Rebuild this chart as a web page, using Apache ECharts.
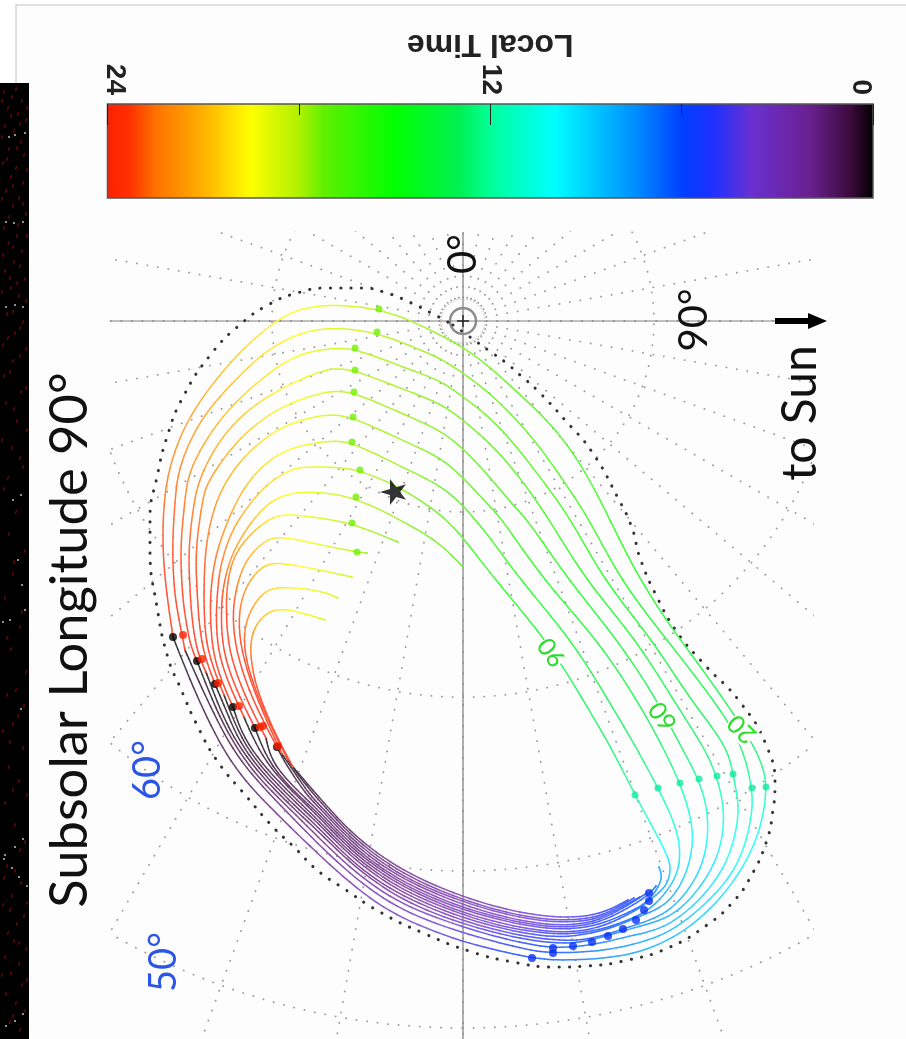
<!DOCTYPE html>
<html><head><meta charset="utf-8">
<style>html,body{margin:0;padding:0;background:#fff}#c{width:906px;height:1039px}</style>
<script src="https://cdn.jsdelivr.net/npm/echarts@6/dist/echarts.min.js"></script>
</head><body><div id="c"></div>
<script>
// Each curve point: [plane x, plane y, local time in hours]
const curve20 = [[173,637,0],[190,680,.3],[207,718,.6],[226,755,.9],[250,787,1.2],[283,820,1.7],[317,853,2.2],[350,883,2.7],[383,908,3.2],[417,925,3.8],[463,942,4.5],[500,951,5.2],[532,958,6],[553,960,6.4],[577,960,6.8],[620,957,7.5],[653,948,8],[687,930,8.5],[717,903,9],[740,873,9.6],[757,840,10.2],[765,807,11],[766,787,12],[765,773,12.3],[755,747,12.8],[733,713,13.3],[703,670,13.8],[673,630,14.3],[653,600,14.7],[632,565,15],[610,520,15.5],[590,480,15.8],[567,443,16.1],[540,413,16.4],[517,392,16.7],[490,367,17],[463,347,17.3],[440,335,17.5],[410,320,17.8],[379,309,18],[335,304,18.7],[300,308,19.3],[277,320,19.7],[250,342,20.2],[223,370,20.8],[193,410,21.5],[177,443,22],[165,483,22.6],[162,537,23.1],[165,583,23.6],[173,637,24]];
const curve30 = [[185,650,0],[199,682,.3],[213,712,.5],[232,749,.8],[256,780,1.1],[288,813,1.6],[317,843,1.9],[350,874,2.3],[383,899,2.8],[417,917,3.3],[463,933,4.2],[500,943,4.9],[533,951,5.5],[553,953,6],[592,952,6.8],[623,947,7.4],[650,940,7.9],[675,929,8.3],[705,905,8.9],[730,878,9.5],[745,848,10.1],[753,810,11],[752,788,12],[743,745,12.8],[714,700,13.3],[667,640,14],[620,580,15],[590,520,15.7],[563,480,16.1],[540,447,16.4],[517,420,16.7],[490,393,17],[463,373,17.3],[440,358,17.5],[420,350,17.7],[377,332,18],[333,327,18.7],[300,332,19.3],[267,350,20],[245,370,20.5],[213,403,21.2],[193,433,21.8],[178,470,22.4],[175,500,22.8],[172,547,23.2],[174,587,23.5],[177,610,23.7],[185,650,24]];
const curve40 = [[197,661,0],[216,710,.4],[235,746,.7],[258,778,1],[292,811,1.4],[317,836,1.7],[350,868,2.1],[383,893,2.6],[417,911,3.1],[463,927,4],[500,938,4.7],[533,945,5.4],[553,948,6],[590,946,6.7],[625,937,7.3],[650,932,7.8],[673,923,8.3],[700,900,8.9],[720,875,9.5],[733,847,10.1],[740,810,11],[735,785,11.7],[733,774,12],[727,745,12.8],[690,700,13.3],[653,640,14],[603,580,15],[572,520,15.7],[540,477,16.2],[517,447,16.5],[490,417,16.9],[463,397,17.2],[440,380,17.5],[410,370,17.7],[355,348,18],[333,348,18.5],[300,353,19.2],[272,370,19.8],[233,403,20.6],[207,437,21.3],[188,473,22],[185,500,22.6],[180,547,23],[182,587,23.4],[184,610,23.6],[190,645,23.9],[197,661,24]];
const curve50 = [[206,672,0],[220,710,.3],[237,744,.5],[261,776,.8],[294,809,1.1],[317,830,1.3],[350,863,1.7],[383,888,2.1],[417,907,2.7],[463,924,3.7],[500,934,4.5],[533,941,5.1],[573,945,6],[610,935,6.8],[640,926,7.4],[670,918,8],[693,897,8.6],[712,870,9.2],[722,843,9.9],[725,810,10.8],[717,776,12],[703,745,12.8],[673,700,13.3],[637,640,14],[585,580,15],[550,520,15.8],[517,473,16.3],[490,443,16.7],[463,420,17.1],[440,403,17.4],[410,392,17.7],[355,370,18],[335,368,18.4],[317,372,18.9],[277,390,19.7],[243,413,20.5],[217,443,21.2],[200,477,22],[194,500,22.4],[188,550,23],[190,587,23.4],[191,610,23.6],[196,650,23.9],[206,672,24]];
const curve60 = [[215,684,0],[226,710,.2],[239,742,.4],[263,774,.7],[296,807,1],[317,826,1.2],[350,860,1.5],[383,885,1.9],[417,903,2.4],[463,921,3.4],[500,931,4.2],[533,938,4.8],[567,941,5.4],[592,939,6],[620,930,6.6],[645,922,7.2],[667,913,7.8],[687,893,8.4],[702,867,9],[708,840,9.8],[708,810,10.8],[699,779,12],[680,745,12.8],[657,700,13.3],[618,640,14],[568,580,15],[528,520,15.8],[517,510,16],[490,477,16.5],[463,448,17],[440,430,17.3],[410,417,17.6],[354,392,18],[335,391,18.4],[320,393,18.8],[283,405,19.6],[250,428,20.4],[227,453,21.1],[207,483,21.9],[203,497,22.2],[195,550,23],[197,587,23.4],[198,610,23.6],[202,650,23.9],[215,684,24]];
const curve70 = [[224,695,0],[241,740,.4],[265,772,.6],[298,805,.9],[317,822,1.1],[350,856,1.4],[383,881,1.8],[417,900,2.3],[463,918,3.2],[500,928,4],[533,935,4.6],[567,938,5.2],[608,930,6],[635,918,6.7],[662,908,7.5],[677,892,8.2],[688,870,8.9],[694,840,9.8],[690,813,10.8],[680,783,12],[662,745,12.8],[637,700,13.3],[598,640,14],[543,580,15],[503,520,15.9],[490,507,16.2],[463,477,16.8],[440,457,17.2],[410,444,17.6],[353,417,18],[335,415,18.4],[320,415,18.8],[283,425,19.5],[253,447,20.3],[230,473,21],[213,507,21.9],[205,550,22.8],[204,587,23.3],[204,610,23.6],[206,650,23.9],[224,695,24]];
const curve80 = [[233,707,0],[243,738,.3],[267,770,.6],[300,803,.9],[317,819,1.1],[350,853,1.4],[383,878,1.7],[417,897,2.2],[463,915,3.1],[500,926,3.8],[533,932,4.4],[567,935,5],[600,930,5.7],[623,922,6.3],[640,915,6.9],[655,905,7.5],[668,890,8.1],[678,873,8.8],[681,850,9.6],[675,823,10.7],[658,788,12],[635,745,12.8],[608,700,13.3],[572,640,14],[520,580,15],[490,537,15.8],[475,520,16.2],[463,505,16.5],[440,485,17],[408,470,17.5],[352,442,18],[335,441,18.4],[320,442,18.8],[287,448,19.4],[260,467,20.2],[240,493,21],[225,527,21.9],[215,557,22.6],[211,587,23.2],[210,610,23.6],[212,650,23.9],[221,680,23.95],[233,707,24]];
const curve90 = [[244,717,0],[252,736,.2],[269,768,.5],[302,801,.9],[317,815,1.1],[350,850,1.3],[383,875,1.7],[417,894,2.2],[463,913,3],[500,923,3.7],[533,930,4.3],[567,933,4.8],[600,928,5.4],[625,916,6],[640,908,6.6],[650,900,7.2],[660,892,7.7],[668,883,8.2],[671,868,8.8],[668,857,9.5],[658,837,10.5],[645,813,11.3],[635,795,12],[610,745,12.8],[583,700,13.3],[547,640,14],[495,580,15],[463,537,16],[440,513,16.8],[400,487,17.5],[360,470,18],[335,467,18.5],[307,467,19],[293,468,19.4],[267,483,20.2],[247,507,21],[230,533,21.8],[220,567,22.7],[218,587,23.2],[216,610,23.6],[217,650,23.9],[229,685,23.95],[244,717,24]];
const curve100a = [[255,728,0],[270,767,.5],[303,800,.9],[317,812,1.1],[350,847,1.3],[383,872,1.7],[417,892,2.2],[463,910,2.9],[500,920,3.5],[533,927,4.1],[567,930,4.6],[600,925,5.2],[625,914,5.8],[644,905,6.4],[655,893,7],[663,878,7.5],[659,867,8]];
const curve100b = [[463,567,16.5],[440,543,17],[410,525,17.5],[356,497,18],[320,492,18.8],[290,492,19.3],[267,503,20],[247,527,21],[230,557,22],[223,587,23],[221,610,23.6],[222,650,23.9],[236,690,23.95],[255,728,24]];
const curve110a = [[266,738,0],[272,765,.4],[305,798,.9],[317,809,1.1],[350,844,1.3],[383,870,1.7],[417,889,2.2],[463,908,2.9],[500,918,3.5],[533,925,4],[567,928,4.5],[600,923,5.1],[630,907,5.8],[649,895,6.3],[656,886,6.8]];
const curve110b = [[398,542,17.3],[352,523,18],[320,518,18.7],[283,513,19.5],[267,520,20],[247,537,21],[233,557,21.9],[227,583,22.8],[226,610,23.5],[228,650,23.9],[244,695,23.95],[266,738,24]];
const curve120a = [[277,747,0],[285,763,.3],[307,796,.8],[317,805,1],[350,841,1.3],[383,867,1.6],[417,886,2.1],[463,905,2.8],[500,916,3.4],[533,923,3.9],[567,926,4.4],[600,921,5],[630,904,5.7],[647,893,6.1]];
const curve120b = [[367,553,17.6],[357,552,18],[320,545,18.8],[278,535,19.8],[263,542,20.3],[247,558,21.2],[238,580,22.3],[232,610,23.3],[235,650,23.8],[252,700,23.95],[277,747,24]];
const curve130a = [[282,754,0],[293,770,.3],[309,794,.7],[317,802,.9],[350,838,1.2],[383,864,1.6],[417,884,2.1],[463,902,2.7],[500,913,3.3],[533,920,3.8],[567,923,4.3],[600,919,4.9],[625,905,5.4],[640,897,5.8]];
const curve130b = [[352,577,18.4],[320,570,19],[278,562,20],[263,565,20.5],[247,583,21.6],[238,610,22.8],[240,650,23.6],[257,700,23.9],[282,754,24]];
const curve140a = [[288,760,0],[299,776,.3],[311,791,.6],[317,798,.8],[350,835,1.2],[383,861,1.5],[417,881,2],[463,900,2.6],[500,911,3.2],[533,918,3.7],[567,921,4.2],[600,917,4.8],[620,906,5.2],[634,898,5.5]];
const curve140b = [[338,598,18.5],[320,590,19],[278,586,20],[263,592,20.6],[250,610,21.8],[243,633,22.8],[246,665,23.6],[265,715,23.9],[288,760,24]];
const curve150a = [[293,767,0],[317,795,.7],[350,832,1.1],[383,858,1.5],[417,878,2],[463,897,2.5],[500,908,3.1],[533,915,3.6],[567,918,4.1],[600,915,4.7],[628,900,5.4]];
const curve150b = [[325,620,18.5],[300,612,19.3],[278,608,20],[263,615,20.7],[253,630,21.6],[250,647,22.4],[252,667,23],[257,690,23.5],[273,730,23.9],[293,767,24]];

const hour0Points = [[173,637],[197,661],[215,684],[233,707],[255,728],[277,747]];
const hour24Points = [[183,635],[202,659],[218,683],[239,706],[260,727],[263,726],[278,746]];
const hour6Points = [[532,958],[553,953],[553,948],[573,946],[592,942],[608,936],[623,929],[636,920],[644,910],[649,901],[649,893]];
const hour12Points = [[766,787],[752,788],[733,774],[717,776],[699,779],[680,783],[658,788],[635,795]];
const hour18Points = [[379,309],[377,332],[355,348],[355,370],[354,392],[353,417],[352,442],[360,470],[356,497],[352,523],[357,552]];
const starPoint = [[393,492]];
const limitOutline = [[453,325],[470,337],[488,350],[505,362],[520,375],[537,390],[565,420],[592,452],[618,498],[632,528],[640,558],[657,597],[677,632],[703,663],[740,702],[767,747],[775,787],[773,810],[767,840],[750,878],[732,903],[707,925],[668,948],[628,960],[587,966],[555,967],[513,962],[472,952],[423,933],[380,912],[343,888],[317,870],[295,848],[273,827],[247,797],[218,762],[198,727],[180,687],[168,658],[157,607],[150,550],[150,518],[157,477],[167,437],[183,397],[212,353],[242,323],[268,305],[297,293],[328,288],[362,288],[387,293],[407,301],[435,315],[453,325]];

const gridLatitudes = [80,70,60,50];
const gridLongitudes = [0,10,20,30,40,50,60,70,80,90,100,110,120,130,140,150,160,170,180,190,200,210,220,230,240,250,260,270,280,290,300,310,320,330,340,350];
const hourStops  = [0,0.7,2,3.8,5,6,7.5,10,12,13,15,17.2,18,19.5,21,22.5,23.3,24];
const hourColors = ['#000000','#3a0a3a','#6a2090','#6a30d0','#2030ff','#0040ff','#0090ff','#00ffff','#00ff99','#00f050','#00ff00','#60f000','#b0f000','#ffff00','#ffb000','#ff7000','#ff3000','#ff2000'];
const barLabelHours = [0.38,12,23.76];
const barLabelTexts = ['0','12','24'];
const redSpeckles = [[4,92],[12,97],[22,101],[8,108],[18,114],[26,120],[5,126],[14,131],[21,142],[9,149],[24,155],[3,163],[16,168],[11,177],[23,183],[6,191],[19,198],[13,206],[26,214],[4,228],[17,236],[9,243],[22,251],[14,262],[5,271],[25,279],[11,288],[19,296],[7,314],[23,322],[15,333],[3,345],[20,356],[10,372],[26,388],[6,403],[17,421],[12,448],[23,467],[4,489],[16,512],[9,534],[25,551],[13,574],[5,598],[20,627],[11,649],[26,672],[7,695],[18,716],[3,731],[13,724],[23,748],[9,767],[19,781],[5,803],[15,825],[25,842],[7,866],[21,883],[12,896],[3,905],[24,916],[17,924],[8,933],[14,941],[26,949],[5,957],[19,964],[11,973],[22,985],[6,994],[16,1003],[25,1011],[10,1022],[20,1030],
  [16,89],[2,101],[27,108],[11,116],[20,124],[2,137],[17,148],[7,159],[27,170],[13,186],[2,199],[23,204],[9,217],[18,225],[27,236],[13,247],[3,255],[20,266],[10,278],[17,283],[2,292],[26,301],[13,312],[20,328],[8,338],[26,349],[13,361],[4,376],[21,392],[14,409],[27,430],[2,440],[20,458],[8,478],[14,562],[22,612],[7,638],[16,690],[24,706],[10,742],[27,795],[13,790],[20,850],[4,878],[15,871],[27,903],[10,910],[19,943],[2,975],[27,980],[13,1016]];
const whiteSpeckles = [[9,137],[15,135],[25,133],[6,222],[14,223],[23,222],[6,307],[15,305],[23,307],[21,495],[13,500],[18,560],[22,585],[10,620],[3,622],[25,610],[21,709],[23,839],[15,847],[5,855],[4,859],[12,868],[19,877],[27,886],[23,1014],[15,1021],[6,1026]];
const titleText = 'Subsolar Longitude 90°';
const sunText = 'to Sun';
const barName = 'Local Time';

const pole = [463,321];
const R = 1100;
const allCurves = [curve20,curve30,curve40,curve50,curve60,curve70,curve80,curve90,curve100a,curve100b,curve110a,curve110b,curve120a,curve120b,curve130a,curve130b,curve140a,curve140b,curve150a,curve150b];

function hex(c){return [parseInt(c.slice(1,3),16),parseInt(c.slice(3,5),16),parseInt(c.slice(5,7),16)];}
function timeColor(h,soft){
  let i=0; while(i<hourStops.length-2&&h>hourStops[i+1])i++;
  const t=Math.min(1,Math.max(0,(h-hourStops[i])/(hourStops[i+1]-hourStops[i])));
  const a=hex(hourColors[i]),b=hex(hourColors[i+1]);
  const m=a.map((v,k)=>v+(b[k]-v)*t).map(v=>Math.round(v*(1-soft)+255*soft));
  return 'rgb('+m.join(',')+')';
}
// Uniform cubic B-spline through the read anchors: smooths reading noise when drawing.
function bs(a,b,c,d,t){const u=1-t;return (u*u*u*a+(3*t*t*t-6*t*t+4)*b+(-3*t*t*t+3*t*t+3*t+1)*c+t*t*t*d)/6;}
function renderCurve(params,api){
  const src=allCurves[params.dataIndex];
  const n=src.length;
  const raw=src.map(p=>{const c=api.coord([p[0],p[1]]);return [c[0],c[1],p[2]];});
  const P=[raw[0],raw[0]].concat(raw,[raw[n-1],raw[n-1]]);
  const kids=[];
  const STEPS=5;
  let prev=raw[0];
  for(let i=1;i<P.length-2;i++){
    for(let s=1;s<=STEPS;s++){
      const t=s/STEPS;
      const q=[0,1,2].map(k=>bs(P[i-1][k],P[i][k],P[i+1][k],P[i+2][k],t));
      kids.push({type:'line',shape:{x1:prev[0],y1:prev[1],x2:q[0],y2:q[1]},
        style:{stroke:timeColor(q[2],.22),lineWidth:1.5,lineCap:'round',fill:null},silent:true});
      prev=q;
    }
  }
  return {type:'group',children:kids};
}
function ringSeries(r,style){
  const data=[];
  for(let a=0;a<=360;a+=2){const t=a*Math.PI/180;data.push([pole[0]+r*Math.sin(t),pole[1]+r*Math.cos(t)]);}
  return lineSeries(data,style);
}
function lineSeries(data,style,smooth){
  return {type:'line',xAxisIndex:0,yAxisIndex:0,data,showSymbol:false,symbol:'none',silent:true,animation:false,clip:true,smooth:smooth||false,lineStyle:style,z:2};
}
const gridDots={color:'#9a9a9a',width:1.8,type:[0.2,10.4],cap:'round'};
const series=[];
gridLongitudes.forEach(lon=>{
  const t=lon*Math.PI/180;
  series.push(lineSeries([[pole[0]+13*Math.sin(t),pole[1]+13*Math.cos(t)],[pole[0]+900*Math.sin(t),pole[1]+900*Math.cos(t)]],gridDots));
});
gridLatitudes.forEach(lat=>series.push(ringSeries(R*Math.cos(lat*Math.PI/180),gridDots)));
series.push(ringSeries(22,{color:'#aaaaaa',width:1,type:[0.4,3],cap:'round'}));
series.push(ringSeries(13,{color:'#8c8c8c',width:2.4}));
series.push(lineSeries([[463,232],[463,1039]],{color:'#8f8f8f',width:1.4}));
series.push(lineSeries([[110,321],[775,321]],{color:'#808080',width:1}));
series.push(lineSeries([[457,321],[469,321]],{color:'#222',width:1.4}));
series.push(lineSeries([[463,315],[463,327]],{color:'#222',width:1.4}));
series.push(lineSeries(limitOutline,{color:'#333333',width:3,type:[0.2,10.2],cap:'round'},0.5));
series.push({type:'custom',xAxisIndex:0,yAxisIndex:0,data:allCurves.map((c,i)=>[c[0][0],c[0][1],i]),encode:{x:0,y:1},renderItem:renderCurve,animation:false,silent:true,z:3});
function pts(data,color,size,z){return {type:'scatter',xAxisIndex:0,yAxisIndex:0,data,symbolSize:size,itemStyle:{color},animation:false,silent:true,z:z||4,clip:false};}
series.push(pts(hour0Points,'#000000',8));
series.push(pts(hour24Points,'#ff2000',8,5));
series.push(pts(hour6Points,'#0a30f0',8));
series.push(pts(hour12Points,'#10e8a0',7));
series.push(pts(hour18Points,'#70f000',7));
series.push({type:'scatter',xAxisIndex:0,yAxisIndex:0,data:starPoint,symbol:'path://M50 0 L61 35 L98 35 L68 57 L79 91 L50 70 L21 91 L32 57 L2 35 L39 35 Z',symbolSize:26,symbolRotate:90,itemStyle:{color:'#000'},animation:false,silent:true,z:5});
// to-Sun arrow
series.push({type:'custom',xAxisIndex:0,yAxisIndex:0,data:[[775,321,808,827]],encode:{x:0,y:1},animation:false,silent:true,z:6,
  renderItem(p,api){
    const a=api.coord([api.value(0),api.value(1)]),b=api.coord([api.value(2),api.value(1)]),c=api.coord([api.value(3),api.value(1)]);
    return {type:'group',children:[
      {type:'rect',shape:{x:a[0],y:a[1]-3,width:b[0]-a[0],height:6},style:{fill:'#000'}},
      {type:'polygon',shape:{points:[[b[0],b[1]-8],[c[0],c[1]],[b[0],b[1]+8]]},style:{fill:'#000'}}
    ]};
  }});
// colour bar
series.push({type:'custom',xAxisIndex:1,yAxisIndex:1,data:[[24,0,0,1]],encode:{x:[0,2],y:[1,3]},animation:false,silent:true,z:2,
  renderItem(p,api){
    const a=api.coord([api.value(0),api.value(1)]),b=api.coord([api.value(2),api.value(3)]);
    const stops=hourStops.map((h,i)=>({offset:1-h/24,color:hourColors[i]})).reverse();
    return {type:'rect',shape:{x:a[0],y:b[1],width:b[0]-a[0],height:a[1]-b[1]},
      style:{fill:new echarts.graphic.LinearGradient(0,0,1,0,stops),stroke:'#555',lineWidth:1.5}};
  }});
// sky-background strip speckles
series.push({type:'scatter',xAxisIndex:2,yAxisIndex:2,data:redSpeckles,symbol:'rect',symbolSize:[1.4,3.5],symbolRotate:-20,itemStyle:{color:'#8a0a0a'},animation:false,silent:true,z:3});
series.push({type:'scatter',xAxisIndex:2,yAxisIndex:2,data:whiteSpeckles,symbolSize:2,itemStyle:{color:'#f4f4f4'},animation:false,silent:true,z:4});

function tx(text,x,y,deg,size,color,extra){
  return {type:'text',x,y,rotation:deg*Math.PI/180,z:20,silent:true,
    style:Object.assign({text,font:size+'px Lato',fill:color,align:'center',verticalAlign:'middle'},extra||{})};
}
const option={
  backgroundColor:'#ffffff',animation:false,
  grid:[
    {left:110,top:232,width:702,height:807,show:false},
    {left:107.5,top:104,width:765.5,height:94,show:false},
    {left:0,top:83,width:29,height:956,show:false}
  ],
  xAxis:[
    {gridIndex:0,type:'value',min:110,max:812,show:false},
    {gridIndex:1,type:'value',min:0,max:24,interval:12,inverse:true,position:'top',z:10,
     name:barName,nameLocation:'middle',nameRotate:180,nameGap:42,
     nameTextStyle:{fontFamily:'Liberation Sans',fontWeight:'bold',fontSize:32,color:'#222'},
     axisLine:{show:false,onZero:false},splitLine:{show:false},
     axisTick:{show:true,inside:true,length:21,lineStyle:{color:'#222',width:1}},
     minorTick:{show:true,splitNumber:2,length:11,lineStyle:{color:'#222',width:1}},
     axisLabel:{rotate:90,margin:9,fontFamily:'Liberation Sans',fontWeight:'bold',fontSize:28,color:'#222',
       customValues:barLabelHours,formatter:v=>barLabelTexts[barLabelHours.indexOf(v)]}},
    {gridIndex:2,type:'value',min:0,max:29,show:false}
  ],
  yAxis:[
    {gridIndex:0,type:'value',min:232,max:1039,inverse:true,show:false},
    {gridIndex:1,type:'value',min:0,max:1,show:false},
    {gridIndex:2,type:'value',min:83,max:1039,inverse:true,show:false}
  ],
  graphic:{elements:[
    {type:'rect',z:-1,silent:true,shape:{x:16,y:5,width:1000,height:1100},style:{fill:'#fdfdfd',stroke:'#d6d6d6',lineWidth:1.5}},
    {type:'rect',z:-1,silent:true,shape:{x:0,y:83,width:29,height:956},style:{fill:'#000'}},
    tx(titleText,70,640,90,52.5,'#111'),
    tx('0°',463,254,90,40,'#111'),
    tx('90°',694,320,90,40,'#111'),
    tx(sunText,801,413,90,48,'#111'),
    tx('60°',148,770,90,38,'#2a55e8'),
    tx('50°',164,962,90,38,'#2a55e8'),
    tx('90',552,652,125,25,'#2add2a',{backgroundColor:'#fff'}),
    tx('60',663,716,125,25,'#2add2a',{backgroundColor:'#fff'}),
    tx('20',742,729,135,25,'#2add2a',{backgroundColor:'#fff'})
  ]},
  series
};
echarts.init(document.getElementById('c'),null,{renderer:'canvas'}).setOption(option);
</script></body></html>
